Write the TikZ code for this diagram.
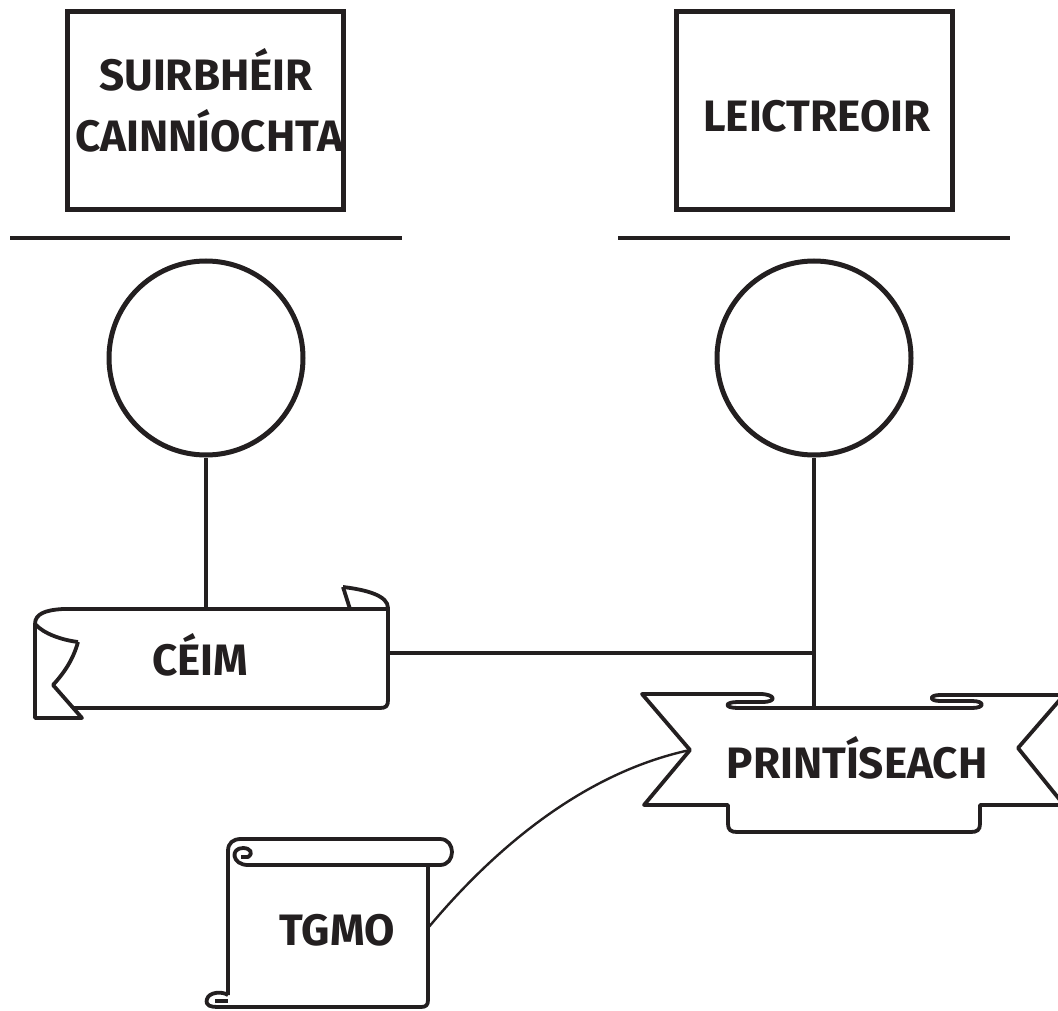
\documentclass[tikz,border=0pt]{standalone}
\usepackage{fontspec}
\setmainfont{Fira Sans}
\definecolor{ink}{HTML}{231F20}
\begin{document}
\begin{tikzpicture}[x=1pt,y=-1pt,
  lbl/.style={font=\fontsize{44}{60}\selectfont\bfseries, text=ink, inner sep=0pt, anchor=base},
  box/.style={draw=ink, line width=5pt, minimum width=276pt, minimum height=198pt, inner sep=0pt},
  circ/.style={draw=ink, circle, line width=5pt, minimum size=194pt, inner sep=0pt},
  rule/.style={draw=ink, line width=4pt},
  link/.style={draw=ink, line width=3.6pt},
  ribbon/.style={draw=ink, line width=3.8pt, line join=round},
  curvelink/.style={draw=ink, line width=2.4pt}
]
\useasboundingbox (0,0) rectangle (1058,1011);

% boxes and rules
\node[box] (b1) at (205,111) {};
\node[box] (b2) at (814,111) {};
\node[lbl] (t1a) at (206,91) {SUIRBHÉIR};
\node[lbl] (t1b) at (209,152) {CAINNÍOCHTA};
\node[lbl] (t2) at (817,132) {LEICTREOIR};
\coordinate (r1a) at (10,238);
\coordinate (r1b) at (402,238);
\coordinate (r2a) at (618,238);
\coordinate (r2b) at (1010,238);
\draw[rule] (r1a) -- (r1b);
\draw[rule] (r2a) -- (r2b);

% circles
\node[circ] (c1) at (206,358) {};
\node[circ] (c2) at (814,358) {};

% anchor coordinates on ribbons
\coordinate (ceimtop) at (206,609);
\coordinate (ceimright) at (388,653);
\coordinate (printop) at (814,708);
\coordinate (notch) at (690,750);
\coordinate (tgmoright) at (428,928);

% connectors
\draw[link] (c1.south) -- (ceimtop);
\draw[link] (c2.south) -- (printop);
\draw[link] (ceimright) -- (ceimright -| printop);
\draw[curvelink] (tgmoright) .. controls (488,856) and (578,774) .. (notch);

% CEIM ribbon
\draw[ribbon] (63,609) -- (388,609);
\draw[ribbon] (343,587) .. controls (368,590) and (388,596) .. (388,608)
  -- (388,700) .. controls (388,706) and (386,708) .. (380,708) -- (73,708);
\draw[ribbon] (343,587) -- (350,609);
\draw[ribbon] (63,609) .. controls (45,610) and (35,614) .. (35,624) -- (35,718) -- (82,718)
  -- (53,685) .. controls (64,673) and (73,660) .. (78,642);
\draw[ribbon] (35,624) .. controls (44,634) and (62,640) .. (78,642);
\node[lbl] (ceim) at (200,675) {CÉIM};

% PRINTISEACH banner
\draw[ribbon] (642,694) -- (690,750) -- (644,805) -- (728,805) -- (728,824)
  .. controls (728,830) and (731,832) .. (737,832) -- (971,832)
  .. controls (977,832) and (980,830) .. (980,824) -- (980,805) -- (1064,805)
  -- (1018,748) -- (1064,695) -- (940,695)
  .. controls (929,695) and (929,701) .. (940,701) -- (972,701)
  .. controls (985,701) and (985,708) .. (972,708) -- (738,708)
  .. controls (724,708) and (724,702) .. (738,702) -- (762,702)
  .. controls (778,702) and (775,694) .. (760,694) -- cycle;
\node[lbl] (prin) at (857,778) {PRINTÍSEACH};

% TGMO scroll
\draw[ribbon] (228,995) -- (228,851) .. controls (228,843) and (233,839) .. (241,839)
  -- (440,839) .. controls (456,839) and (456,865) .. (440,865) -- (248,865)
  .. controls (232,865) and (230,848) .. (243,848) .. controls (250,848) and (254,853) .. (248,857) -- (241,857);
\draw[ribbon] (428,865) -- (428,1000) .. controls (428,1005) and (426,1007) .. (421,1007) -- (218,1007)
  .. controls (211,1007) and (205,1006) .. (207,999) .. controls (209,992) and (222,991) .. (228,995);
\draw[ribbon] (215,1001) -- (228,1001);
\node[lbl] (tgmo) at (337,945) {TGMO};
\end{tikzpicture}
\end{document}
